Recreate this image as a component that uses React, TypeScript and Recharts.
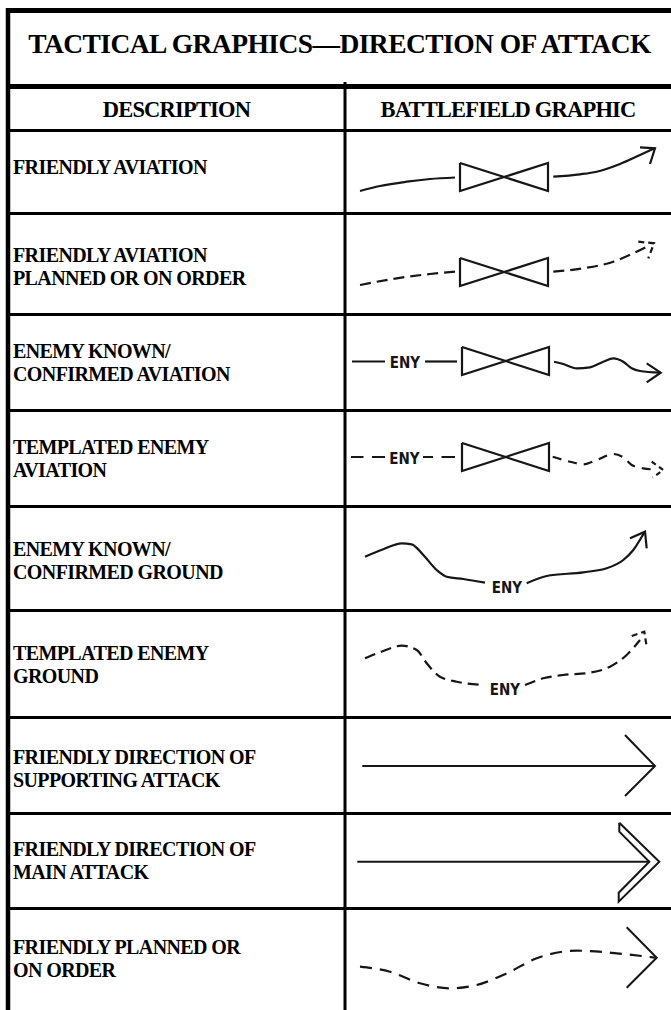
// Tactical graphics – direction of attack (table with drawn graphics)
import { ComposedChart, Line, XAxis, YAxis, ReferenceLine } from 'recharts'

type P = { x: number; y: number }
const pts = (a: number[][]): P[] => a.map(([x, y]) => ({ x, y }))

// ============================================
// Table rules (page px)
// ============================================

const frameTop = 10.5
const titleBottom = 86.5
const rowEdges = [130.5, 213.5, 314.5, 410.5, 506.5, 610.5, 717.5, 813.5, 908.5, 1010]
const leftEdge = 8
const colDivider = 345

const title = 'TACTICAL GRAPHICS\u2014DIRECTION OF ATTACK'
const headers = ['DESCRIPTION', 'BATTLEFIELD GRAPHIC']
const rowLabels = [
  ['FRIENDLY AVIATION'],
  ['FRIENDLY AVIATION', 'PLANNED OR ON ORDER'],
  ['ENEMY KNOWN/', 'CONFIRMED AVIATION'],
  ['TEMPLATED ENEMY', 'AVIATION'],
  ['ENEMY KNOWN/', 'CONFIRMED GROUND'],
  ['TEMPLATED ENEMY', 'GROUND'],
  ['FRIENDLY DIRECTION OF', 'SUPPORTING ATTACK'],
  ['FRIENDLY DIRECTION OF', 'MAIN ATTACK'],
  ['FRIENDLY PLANNED OR', 'ON ORDER'],
]

// ============================================
// Graphics
// ============================================

// bowtie boxes: [left, right, top, bottom]
const bowties = [
  [460, 548, 163, 191],
  [460, 548, 258, 286],
  [462, 549, 347, 375],
  [462, 549, 443, 471],
]

// row 1 – friendly aviation
const r1Lead = pts([[360, 191], [380, 186], [406.7, 181.7], [430, 179], [455, 177.5]])
const r1Trail = pts([[553.3, 176.7], [580, 174.3], [596.7, 171.7], [620, 164], [640, 155], [654, 148.5]])
const r1Head = pts([[640, 147.3], [655, 148.3], [650, 164]])

// row 2 – friendly aviation planned
const r2Lead = pts([[360, 285], [396.7, 278.3], [430, 274], [455, 271.7]])
const r2Trail = pts([[553.3, 271.7], [583.3, 268.3], [613.3, 261.7], [633.3, 253.3], [650, 245]])
const r2Head = pts([[638.3, 241.7], [654, 243.3], [648.3, 258.3]])

// row 3 – enemy known aviation
const r3LeadA = pts([[352, 361.5], [385, 361.5]])
const r3LeadB = pts([[425, 361.5], [457, 361.5]])
const r3Wave = pts([[554, 361.7], [563.3, 364], [576.7, 368.3], [590, 367.3], [603.3, 361.7], [613.3, 358.3], [623.3, 361.7], [631.7, 368.3], [640, 371], [660, 372.7]])
const r3Head = pts([[646.7, 363.3], [660.7, 372.7], [646.7, 382.3]])

// row 4 – templated enemy aviation
const r4LeadA = pts([[351, 457], [385, 457]])
const r4LeadB = pts([[423, 457], [455, 457]])
const r4Wave = pts([[552.7, 456.7], [570, 461.7], [583.3, 464.3], [596.7, 460], [613.3, 454], [623.3, 457.3], [631.7, 465], [643.3, 468.3], [655, 469.5]])
const r4Head = pts([[651.7, 461.7], [663.3, 470], [652.7, 477.7]])

// row 5 – enemy known ground
const r5Lead = pts([[365, 556.7], [383.3, 549.3], [401.7, 543.3], [411.7, 544.3], [423.3, 555], [436.7, 570], [446.7, 576.7], [463.3, 579], [485, 582.7]])
const r5Trail = pts([[526.7, 583.3], [546.7, 576], [583.3, 572.3], [606.7, 568.3], [623.3, 560], [633.3, 550], [644, 533]])
const r5Head = pts([[630, 538.3], [645, 531.7], [646.7, 548.3]])

// row 6 – templated enemy ground
const r6Lead = pts([[365, 658.3], [383.3, 651], [401.7, 645.7], [416.7, 650], [426.7, 663.3], [440, 676.7], [456.7, 681.7], [483.3, 685]])
const r6Trail = pts([[525, 685], [543.3, 678.3], [563.3, 675], [590, 672.7], [610, 666.7], [626.7, 655], [640, 640]])
const r6Head = pts([[631.7, 636], [644.3, 631.7], [646.7, 646.7]])

// row 7 – supporting attack
const r7Shaft = pts([[362.3, 766], [655, 766]])
const r7Head = pts([[625, 735], [655, 766], [625, 796]])

// row 8 – main attack
const r8Shaft = pts([[357.3, 861.7], [650, 861.7]])
const r8Head = pts([[619.3, 822.7], [659.3, 861.7], [618.7, 901.7], [618.7, 892.7], [649.3, 861.7], [619.3, 831.7], [619.3, 822.7]])

// row 9 – friendly planned
const r9Shaft = pts([[360, 966.7], [390, 971.7], [420, 983.3], [450, 988.3], [476.7, 985], [506.7, 973.3], [536.7, 958.3], [576.7, 950.7], [616.7, 953.3], [655, 957.7]])
const r9Head = pts([[626.7, 927.3], [656.7, 957.7], [626.7, 987.7]])

// ENY labels: [centre x, centre y]
const enyMarks = [
  [405, 362.5],
  [404.5, 458.5],
  [507, 587.5],
  [505, 690],
]

// ============================================
// Helpers
// ============================================

const INK = '#161616'
const W = 671
const H = 1010

// small vertical nudges of the description text, per row
const labelNudge = [-4.5, 3, 0, 0, 2, 1, 3, 0, 0]

function bowtiePoly([x0, x1, y0, y1]: number[]): P[] {
  return pts([[x0, y0], [x1, y1], [x1, y0], [x0, y1], [x0, y0]])
}

function trace(key: string, data: P[], opts: { dash?: string; curve?: boolean; width?: number } = {}) {
  return (
    <Line
      key={key}
      data={data}
      dataKey="y"
      type={opts.curve ? 'monotone' : 'linear'}
      stroke={INK}
      strokeWidth={opts.width ?? 2.2}
      strokeDasharray={opts.dash}
      strokeLinejoin="miter"
      dot={false}
      activeDot={false}
      legendType="none"
      isAnimationActive={false}
    />
  )
}

function hRule(key: string, y: number, width: number, x0 = leftEdge - 2) {
  return (
    <ReferenceLine
      key={key}
      segment={[{ x: x0, y }, { x: W, y }]}
      stroke="#000"
      strokeWidth={width}
      ifOverflow="visible"
    />
  )
}

const serif = '"Liberation Serif", "Times New Roman", serif'

// ============================================
// App
// ============================================

export default function App() {
  const rows = rowEdges.slice(0, -1).map((top, i) => ({ top, bottom: rowEdges[i + 1], label: rowLabels[i] }))

  return (
    <div style={{ position: 'absolute', left: 0, top: 0, width: W, height: H, background: '#fff', overflow: 'hidden' }}>
      <div style={{ position: 'absolute', left: 0, top: 0 }}>
        <ComposedChart width={W} height={H} margin={{ top: 0, right: 0, bottom: 0, left: 0 }}>
          <XAxis type="number" dataKey="x" domain={[0, W]} allowDataOverflow hide />
          <YAxis type="number" domain={[0, H]} reversed allowDataOverflow hide />

          {hRule('top', frameTop, 5)}
          {hRule('title', titleBottom, 5)}
          {rowEdges.slice(0, -1).map((y, i) => hRule(`row-${i}`, y, 3))}
          <ReferenceLine segment={[{ x: leftEdge, y: frameTop - 2.5 }, { x: leftEdge, y: H }]} stroke="#000" strokeWidth={4.5} ifOverflow="visible" />
          <ReferenceLine segment={[{ x: colDivider, y: titleBottom - 4.5 }, { x: colDivider, y: H }]} stroke="#000" strokeWidth={3} ifOverflow="visible" />

          {bowties.map((b, i) => trace(`bow-${i}`, bowtiePoly(b)))}

          {trace('r1a', r1Lead, { curve: true })}
          {trace('r1b', r1Trail, { curve: true })}
          {trace('r1h', r1Head)}

          {trace('r2a', r2Lead, { curve: true, dash: '11 6' })}
          {trace('r2b', r2Trail, { curve: true, dash: '11 6' })}
          {trace('r2h', r2Head, { dash: '6 4' })}

          {trace('r3a', r3LeadA)}
          {trace('r3b', r3LeadB)}
          {trace('r3w', r3Wave, { curve: true })}
          {trace('r3h', r3Head)}

          {trace('r4a', r4LeadA, { dash: '12.5 8.5 13 50' })}
          {trace('r4b', r4LeadB, { dash: '10 8.5 14 50' })}
          {trace('r4w', r4Wave, { curve: true, dash: '9 7' })}
          {trace('r4h', r4Head, { dash: '5 4' })}

          {trace('r5a', r5Lead, { curve: true })}
          {trace('r5b', r5Trail, { curve: true })}
          {trace('r5h', r5Head)}

          {trace('r6a', r6Lead, { curve: true, dash: '11 6' })}
          {trace('r6b', r6Trail, { curve: true, dash: '11 6' })}
          {trace('r6h', r6Head, { dash: '6 4' })}

          {trace('r7s', r7Shaft, { width: 2 })}
          {trace('r7h', r7Head, { width: 2 })}

          {trace('r8s', r8Shaft, { width: 2 })}
          {trace('r8h', r8Head, { width: 2 })}

          {trace('r9s', r9Shaft, { curve: true, dash: '12 8' })}
          {trace('r9h', r9Head, { width: 2 })}
        </ComposedChart>
      </div>

      {/* title */}
      <div
        style={{
          position: 'absolute', left: leftEdge, width: W - leftEdge, top: 30, lineHeight: '28px',
          textAlign: 'center', fontFamily: serif, fontWeight: 700, fontSize: 27.5, letterSpacing: -0.55, color: '#000', whiteSpace: 'nowrap',
        }}
      >
        {title}
      </div>

      {/* header row */}
      {headers.map((h, i) => (
        <div
          key={h}
          style={{
            position: 'absolute', left: i === 0 ? leftEdge : colDivider, width: i === 0 ? colDivider - leftEdge : W - colDivider,
            top: titleBottom + 2.5, height: rowEdges[0] - titleBottom - 2.5,
            display: 'flex', alignItems: 'center', justifyContent: 'center',
            fontFamily: serif, fontWeight: 700, fontSize: 22.5, letterSpacing: -0.8, color: '#000', whiteSpace: 'nowrap',
          }}
        >
          {h}
        </div>
      ))}

      {/* description cells */}
      {rows.map((r, i) => (
        <div
          key={i}
          style={{
            position: 'absolute', left: 13, width: colDivider - 16, top: r.top + labelNudge[i], height: r.bottom - r.top,
            display: 'flex', flexDirection: 'column', justifyContent: 'center',
            fontFamily: serif, fontWeight: 700, fontSize: 20, lineHeight: '23px', letterSpacing: -0.6, color: '#000',
          }}
        >
          {r.label.map((t) => (
            <div key={t} style={{ whiteSpace: 'nowrap' }}>{t}</div>
          ))}
        </div>
      ))}

      {/* ENY labels */}
      {enyMarks.map(([x, y], i) => (
        <div
          key={`eny-${i}`}
          style={{
            position: 'absolute', left: x, top: y, transform: 'translate(-50%, -50%)',
            fontFamily: '"DejaVu Sans Condensed", "DejaVu Sans", sans-serif', fontSize: 15, lineHeight: '15px', fontWeight: 600, color: INK,
            whiteSpace: 'nowrap',
          }}
        >
          ENY
        </div>
      ))}
    </div>
  )
}
